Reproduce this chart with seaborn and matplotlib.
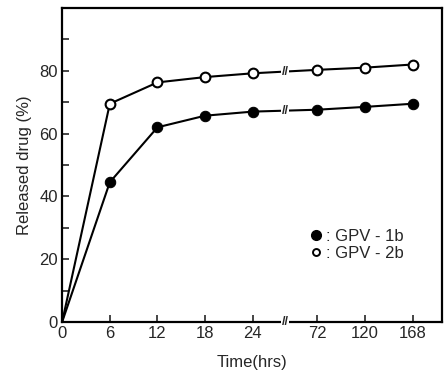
import matplotlib
matplotlib.use("Agg")
import matplotlib.pyplot as plt
import seaborn as sns
from matplotlib.lines import Line2D

# release data
times = [0, 6, 12, 18, 24, 72, 120, 168]
gpv_1b = [0, 44.5, 62, 65.7, 67, 67.6, 68.5, 69.5]
gpv_2b = [0, 69.5, 76.3, 78, 79.2, 80.3, 81, 82]
y_ticks = [0, 10, 20, 30, 40, 50, 60, 70, 80, 90]
y_labels = ["0", "", "20", "", "40", "", "60", "", "80", ""]

sns.set_style("ticks")
plt.rcParams['font.family'] = ['Liberation Sans', 'DejaVu Sans']

# broken x axis: evenly spaced categories with a gap after 24 h
gap = 0.35
xpos = [i if i <= 4 else i + gap for i in range(len(times))]
xbreak = 4 + (1 + gap) / 2
marked = list(range(1, len(times)))  # no marker at the origin

fig, ax = plt.subplots(figsize=(4.47, 3.81), dpi=100)
fig.subplots_adjust(left=0.139, right=0.989, top=0.979, bottom=0.155)

sns.lineplot(x=xpos, y=gpv_2b, ax=ax, color='black', linewidth=1.5,
             marker='o', markersize=7, markerfacecolor='white',
             markeredgecolor='black', markeredgewidth=1.5, markevery=marked)
sns.lineplot(x=xpos, y=gpv_1b, ax=ax, color='black', linewidth=1.5,
             marker='o', markersize=7.5, markerfacecolor='black',
             markeredgecolor='black', markevery=marked)

# break marks on both curves and on the axis
for ys in (gpv_1b, gpv_2b):
    ax.text(xbreak, (ys[4] + ys[5]) / 2, "//", ha='center', va='center',
            fontsize=9, fontweight='bold',
            bbox=dict(facecolor='white', edgecolor='none', pad=0.2), zorder=5)
ax.text(xbreak, 0, "//", ha='center', va='center', fontsize=9, fontweight='bold',
        bbox=dict(facecolor='white', edgecolor='none', pad=0.2), zorder=5,
        clip_on=False)

ax.set_xlim(0, 7.97)
ax.set_ylim(0, 100)
ax.set_xticks(xpos)
ax.set_xticklabels([str(t) for t in times])
ax.set_yticks(y_ticks)
ax.set_yticklabels(y_labels)
ax.tick_params(direction='in', length=5, width=1.2, labelsize=12, pad=3)

for s in ax.spines.values():
    s.set_linewidth(1.6)
    s.set_color('black')

ax.set_xlabel("Time(hrs)", fontsize=12, labelpad=10)
ax.set_ylabel("Released drug (%)", fontsize=12, labelpad=5)

handles = [Line2D([], [], linestyle='none', marker='o', markersize=7,
                  markerfacecolor='black', markeredgecolor='black'),
           Line2D([], [], linestyle='none', marker='o', markersize=5,
                  markerfacecolor='white', markeredgecolor='black',
                  markeredgewidth=1.4)]
ax.legend(handles, [": GPV - 1b", ": GPV - 2b"], loc='upper left',
          bbox_to_anchor=(0.61, 0.345), frameon=False, fontsize=12,
          handlelength=0.8, handletextpad=0.2, labelspacing=0.15)

plt.savefig("out.png", dpi=100)
